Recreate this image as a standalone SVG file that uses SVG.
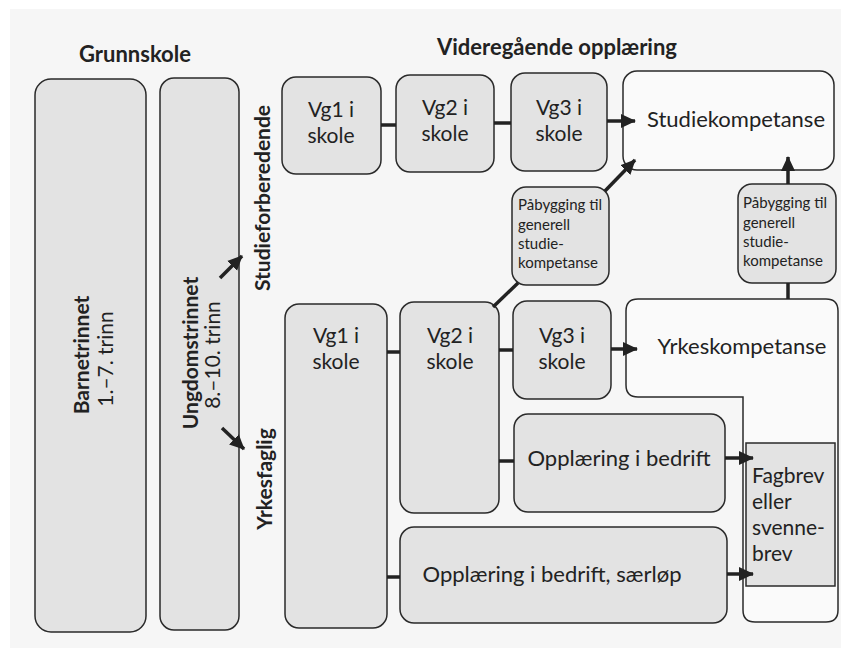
<svg xmlns="http://www.w3.org/2000/svg" width="841" height="648" viewBox="0 0 841 648">
<defs>
<marker id="ah" markerUnits="userSpaceOnUse" markerWidth="15" markerHeight="15" viewBox="0 0 15 15" refX="14" refY="7.5" orient="auto">
<path d="M0,0.5 L15,7.5 L0,14.5 Z" fill="#222"/>
</marker>
</defs>
<style>
.box{fill:#e3e3e3;stroke:#2a2a2a;stroke-width:1.5}
.wbox{fill:#fafafa;stroke:#2a2a2a;stroke-width:1.5}
.t{font-family:Lato,"Noto Sans",sans-serif;fill:#222}
.b{font-weight:bold;font-size:21px}
.h{font-size:22px}
.vg{font-size:21px;text-anchor:middle}
.lg{font-size:22px}
.sm{font-size:15px}
.con line{stroke:#222;stroke-width:3.5;fill:none}
.arr{marker-end:url(#ah)}
</style>
<rect x="0" y="0" width="841" height="648" fill="#ffffff"/>
<rect x="10" y="9" width="831" height="639" fill="#f6f6f6"/>

<text class="t b h" x="135" y="62" text-anchor="middle">Grunnskole</text>
<text class="t b h" x="557" y="55" text-anchor="middle">Videregående opplæring</text>

<g id="barnetrinnet">
<rect class="box" x="35" y="79" width="111" height="553" rx="16"/>
<text class="t b" text-anchor="middle" transform="translate(89,355) rotate(-90)">Barnetrinnet</text>
<text class="t" font-size="21" text-anchor="middle" transform="translate(113,359) rotate(-90)">1.–7. trinn</text>
</g>
<g id="ungdomstrinnet">
<rect class="box" x="160" y="78" width="79" height="552" rx="14"/>
<text class="t b" text-anchor="middle" transform="translate(198,353) rotate(-90)">Ungdomstrinnet</text>
<text class="t" font-size="21" text-anchor="middle" transform="translate(220,355) rotate(-90)">8.–10. trinn</text>
</g>
<g id="studieforberedende">
<text class="t b" text-anchor="middle" transform="translate(270,198) rotate(-90)">Studieforberedende</text>
</g>
<g id="yrkesfaglig">
<text class="t b" text-anchor="middle" transform="translate(272,479) rotate(-90)">Yrkesfaglig</text>
</g>

<g id="vg1-studie">
<rect class="box" x="282" y="77" width="99" height="97" rx="14"/>
<text class="t vg" x="331" y="117">Vg1 i</text>
<text class="t vg" x="331" y="143">skole</text>
</g>
<g id="vg2-studie">
<rect class="box" x="396" y="75" width="98" height="97" rx="14"/>
<text class="t vg" x="445" y="115">Vg2 i</text>
<text class="t vg" x="445" y="141">skole</text>
</g>
<g id="vg3-studie">
<rect class="box" x="511" y="73" width="96" height="98" rx="14"/>
<text class="t vg" x="559" y="115">Vg3 i</text>
<text class="t vg" x="559" y="141">skole</text>
</g>
<g id="studiekompetanse">
<rect class="wbox" x="623" y="71" width="211" height="99" rx="14"/>
<text class="t lg" x="736" y="127" text-anchor="middle">Studiekompetanse</text>
</g>

<g id="pabygging-1">
<rect class="box" x="512" y="187" width="97" height="98" rx="14"/>
<text class="t sm" x="518" y="210">Påbygging til</text>
<text class="t sm" x="518" y="230">generell</text>
<text class="t sm" x="518" y="249">studie-</text>
<text class="t sm" x="518" y="268">kompetanse</text>
</g>
<g id="pabygging-2">
<rect class="box" x="738" y="184" width="98" height="99" rx="14"/>
<text class="t sm" x="743" y="208">Påbygging til</text>
<text class="t sm" x="743" y="228">generell</text>
<text class="t sm" x="743" y="247">studie-</text>
<text class="t sm" x="743" y="266">kompetanse</text>
</g>

<g id="vg1-yrkes">
<rect class="box" x="285" y="304" width="102" height="324" rx="14"/>
<text class="t vg" x="336" y="343">Vg1 i</text>
<text class="t vg" x="336" y="369">skole</text>
</g>
<g id="vg2-yrkes">
<rect class="box" x="400" y="302" width="99" height="211" rx="14"/>
<text class="t vg" x="450" y="343">Vg2 i</text>
<text class="t vg" x="450" y="369">skole</text>
</g>
<g id="vg3-yrkes">
<rect class="box" x="513" y="301" width="98" height="98" rx="14"/>
<text class="t vg" x="562" y="343">Vg3 i</text>
<text class="t vg" x="562" y="369">skole</text>
</g>
<g id="yrkeskompetanse">
<path class="wbox" d="M638,299 H826 Q838,299 838,311 V610 Q838,622 826,622 H755 Q743,622 743,610 V397 H638 Q626,397 626,385 V311 Q626,299 638,299 Z"/>
<text class="t lg" x="742" y="354" text-anchor="middle">Yrkeskompetanse</text>
</g>
<g id="opplaering">
<rect class="box" x="514" y="414" width="211" height="98" rx="14"/>
<text class="t lg" x="619" y="466" text-anchor="middle">Opplæring i bedrift</text>
</g>
<g id="saerlop">
<rect class="box" x="400" y="527" width="327" height="96" rx="14"/>
<text class="t lg" x="552" y="582" text-anchor="middle">Opplæring i bedrift, særløp</text>
</g>
<g id="fagbrev">
<rect class="box" x="746" y="443" width="89" height="143"/>
<text class="t" x="752" y="483" font-size="21">Fagbrev</text>
<text class="t" x="752" y="509" font-size="21">eller</text>
<text class="t" x="752" y="535" font-size="21">svenne-</text>
<text class="t" x="752" y="561" font-size="21">brev</text>
</g>

<g id="connectors" class="con">
<line class="arr" x1="220" y1="278" x2="242" y2="256"/>
<line class="arr" x1="222" y1="428" x2="244" y2="449"/>
<line x1="381" y1="125" x2="396" y2="125"/>
<line x1="494" y1="123" x2="511" y2="123"/>
<line class="arr" x1="607" y1="121" x2="635" y2="121"/>
<line class="arr" x1="605" y1="191" x2="635" y2="160"/>
<line class="arr" x1="788" y1="184" x2="788" y2="157"/>
<line x1="788" y1="299" x2="788" y2="283"/>
<line x1="493" y1="307" x2="518" y2="283"/>
<line x1="387" y1="352" x2="400" y2="352"/>
<line x1="499" y1="350" x2="513" y2="350"/>
<line class="arr" x1="611" y1="349" x2="637" y2="349"/>
<line x1="499" y1="461" x2="514" y2="461"/>
<line class="arr" x1="725" y1="458" x2="753" y2="458"/>
<line x1="387" y1="577" x2="400" y2="577"/>
<line class="arr" x1="727" y1="574" x2="753" y2="574"/>
</g>
</svg>
